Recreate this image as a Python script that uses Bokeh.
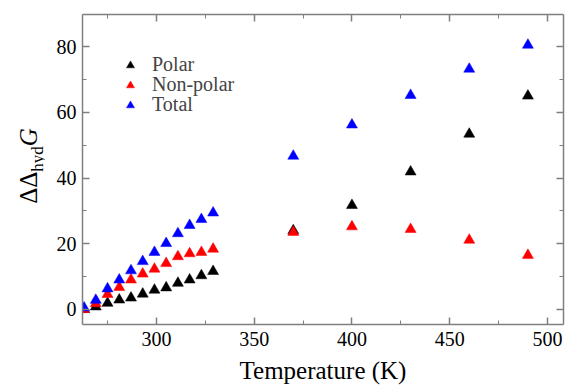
from bokeh.plotting import figure
from bokeh.layouts import row
from bokeh.models import (ColumnDataSource, Legend, LegendItem, LinearAxis,
                          SingleIntervalTicker, Range1d, Div, CustomJSTickFormatter)
from bokeh.embed import file_html
from bokeh.resources import INLINE

# ---- data ----
temps_low = [263, 269, 275, 281, 287, 293, 299, 305, 311, 317, 323, 329]
temps_high = [370, 400, 430, 460, 490]
polar = [0.0, 0.8, 1.9, 2.9, 3.5, 4.7, 5.9, 6.6, 8.0, 9.0, 10.3, 11.6,
         24.0, 31.7, 41.9, 53.4, 65.0]
nonpolar = [0.0, 1.8, 4.6, 6.7, 9.0, 10.8, 12.3, 14.0, 16.1, 17.0, 17.4, 18.4,
            23.5, 25.2, 24.4, 21.1, 16.5]
total = [0.5, 2.8, 6.3, 9.0, 11.8, 14.6, 17.4, 20.1, 23.1, 25.6, 27.4, 29.4,
         46.7, 56.2, 65.2, 73.2, 80.5]
series_names = ["Polar", "Non-polar", "Total"]
series_colors = ["#000000", "#ff0000", "#0000ff"]
x_ticks_interval = 50
y_ticks_interval = 20
x_label = "Temperature (K)"

temps = temps_low + temps_high

FONT = "Liberation Serif"
AXIS_COLOR = "#7f7f7f"

p = figure(width=524, height=386, output_backend="svg", toolbar_location=None,
           x_range=Range1d(262.2, 508.2), y_range=Range1d(-4.6, 89.8),
           min_border_left=38, min_border_right=5, min_border_top=14,
           min_border_bottom=58, margin=0)
p.xgrid.visible = False
p.ygrid.visible = False
p.outline_line_color = None
p.background_fill_color = "white"
p.border_fill_color = "white"

renderers = []
for name, vals, col in zip(series_names, [polar, nonpolar, total], series_colors):
    src = ColumnDataSource(dict(x=temps, y=vals))
    r = p.scatter("x", "y", source=src, marker="triangle", size=11,
                  fill_color=col, line_color=col, line_width=0.5)
    renderers.append(r)

def style_axis(ax, labels=True):
    ax.axis_line_color = AXIS_COLOR
    ax.axis_line_width = 1.5
    ax.major_tick_line_color = AXIS_COLOR
    ax.minor_tick_line_color = AXIS_COLOR
    ax.major_tick_line_width = 1.5
    ax.minor_tick_line_width = 1.0
    ax.major_tick_in = 7
    ax.major_tick_out = 0
    ax.minor_tick_in = 4
    ax.minor_tick_out = 0
    ax.major_label_text_font = FONT
    ax.major_label_text_font_size = "20px"
    ax.major_label_text_font_style = "normal"
    ax.major_label_text_color = "black"
    if not labels:
        ax.formatter = CustomJSTickFormatter(code="return ''")
        ax.major_label_standoff = 0

p.xaxis.ticker = SingleIntervalTicker(interval=x_ticks_interval, num_minor_ticks=2)
p.yaxis.ticker = SingleIntervalTicker(interval=y_ticks_interval, num_minor_ticks=2)
style_axis(p.xaxis[0])
style_axis(p.yaxis[0])
p.xaxis.major_label_standoff = 7
p.yaxis.major_label_standoff = 6
p.xaxis.axis_label = x_label
p.xaxis.axis_label_text_font = FONT
p.xaxis.axis_label_text_font_size = "25px"
p.xaxis.axis_label_text_font_style = "normal"
p.xaxis.axis_label_text_color = "black"
p.xaxis.axis_label_standoff = 8

top_ax = LinearAxis(ticker=SingleIntervalTicker(interval=x_ticks_interval, num_minor_ticks=2))
style_axis(top_ax, labels=False)
p.add_layout(top_ax, "above")
right_ax = LinearAxis(ticker=SingleIntervalTicker(interval=y_ticks_interval, num_minor_ticks=2))
style_axis(right_ax, labels=False)
p.add_layout(right_ax, "right")

# legend: one single-item legend per series for exact row placement
for i, (n, r) in enumerate(zip(series_names, renderers)):
    lg = Legend(items=[LegendItem(label=n, renderers=[r])],
                location=(38, 248 - 20 * i), border_line_alpha=0,
                background_fill_alpha=0, label_text_font=FONT,
                label_text_font_size="20px", label_text_font_style="normal",
                glyph_width=20, glyph_height=20, label_height=20,
                spacing=0, label_standoff=12, padding=0)
    p.add_layout(lg, "center")

# y-axis label: ΔΔ_hyd G as real (HTML) text
ylabel = Div(
    text=('<div style="position:absolute; left:28px; top:166px; '
          'transform:translate(-50%,-50%) rotate(-90deg); white-space:nowrap; '
          "font-family:'Liberation Serif'; font-size:25px; color:black; line-height:1;\">"
          '\u0394\u0394<span style="font-size:17px; position:relative; top:6px;">hyd</span>'
          '<i>G</i></div>'),
    width=44, height=386, margin=0)

layout = row(ylabel, p, margin=0)
open("out.html", "w").write(file_html(layout, INLINE))
